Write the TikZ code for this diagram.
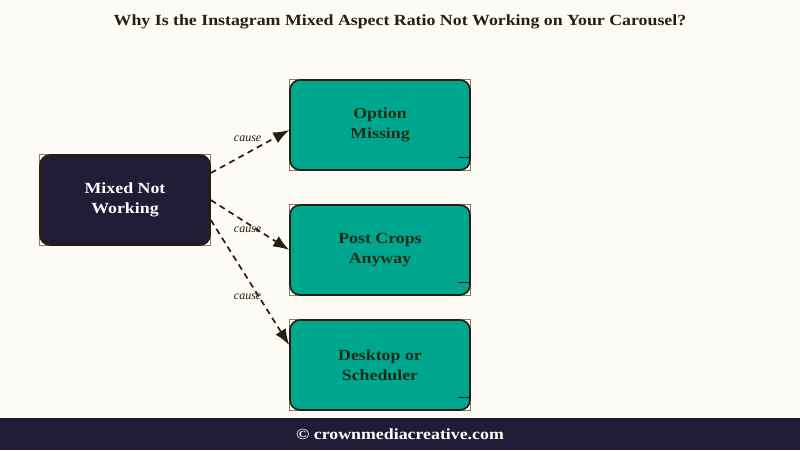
\documentclass[tikz,border=0pt]{standalone}
\usepackage{fontspec}
\setmainfont{Liberation Serif}[BoldFeatures={FakeStretch=1.15}]
\usetikzlibrary{arrows.meta,backgrounds}
\definecolor{bg}{HTML}{FDFBF6}
\definecolor{navy}{HTML}{221B36}
\definecolor{tealbox}{HTML}{00A78F}
\definecolor{ink}{HTML}{2B1D0E}
\definecolor{tealtext}{HTML}{1C2B17}
\definecolor{framec}{HTML}{8C7A62}
\tikzset{
  box/.style={rounded corners=10pt, line width=1.6pt, draw=ink, minimum width=170pt, minimum height=90pt, align=center, font=\fontsize{15.5}{20}\selectfont\bfseries},
  srcbox/.style={box, fill=navy, text=white},
  dstbox/.style={box, fill=tealbox, text=tealtext, minimum width=180pt},
  causearrow/.style={draw=ink, line width=1.7pt, dash pattern=on 6pt off 4.5pt, -{Latex[length=16pt,width=12pt]}},
  lbl/.style={font=\fontsize{12}{14}\selectfont\itshape, text=ink, inner sep=1pt},
  frame/.style={draw=framec, line width=0.8pt},
  tick/.style={draw=ink, line width=1.2pt}
}
\begin{document}
\begin{tikzpicture}[x=1pt,y=-1pt]
\useasboundingbox (0,0) rectangle (800,450);
\begin{pgfonlayer}{background}
\fill[bg] (0,0) rectangle (800,450);
\end{pgfonlayer}
\fill[navy] (0,418) rectangle (800,450);
\node[font=\fontsize{15.5}{18}\selectfont\bfseries, text=ink] (title) at (400,22) {Why Is the Instagram Mixed Aspect Ratio Not Working on Your Carousel?};
\node[font=\fontsize{15.5}{18}\selectfont\bfseries, text=white] (footer) at (400,434) {© crownmediacreative.com};

\node[srcbox] (src) at (125,200) {Mixed Not\\Working};
\node[dstbox] (d1) at (380,125) {Option\\Missing};
\node[dstbox] (d2) at (380,250) {Post Crops\\Anyway};
\node[dstbox] (d3) at (380,365) {Desktop or\\Scheduler};

\begin{pgfonlayer}{background}
\foreach \n in {src,d1,d2,d3}{
  \draw[frame] (\n.south west) rectangle (\n.north east);
}
\end{pgfonlayer}
\foreach \n in {src,d1,d2,d3}{
  \draw[tick] ([xshift=-13pt,yshift=13pt]\n.south east) -- ([yshift=13pt]\n.south east);
}

\draw[causearrow] ([yshift=27pt]src.east) -- node[lbl, pos=0.47, above=9pt]{cause} ([yshift=-5pt]d1.west);
\draw[causearrow] (src.east) -- node[lbl, pos=0.47, yshift=-6pt]{cause} (d2.west);
\draw[causearrow] ([yshift=-20pt]src.east) -- node[lbl, pos=0.61, xshift=-11pt]{cause} ([yshift=20pt]d3.west);
\end{tikzpicture}
\end{document}
